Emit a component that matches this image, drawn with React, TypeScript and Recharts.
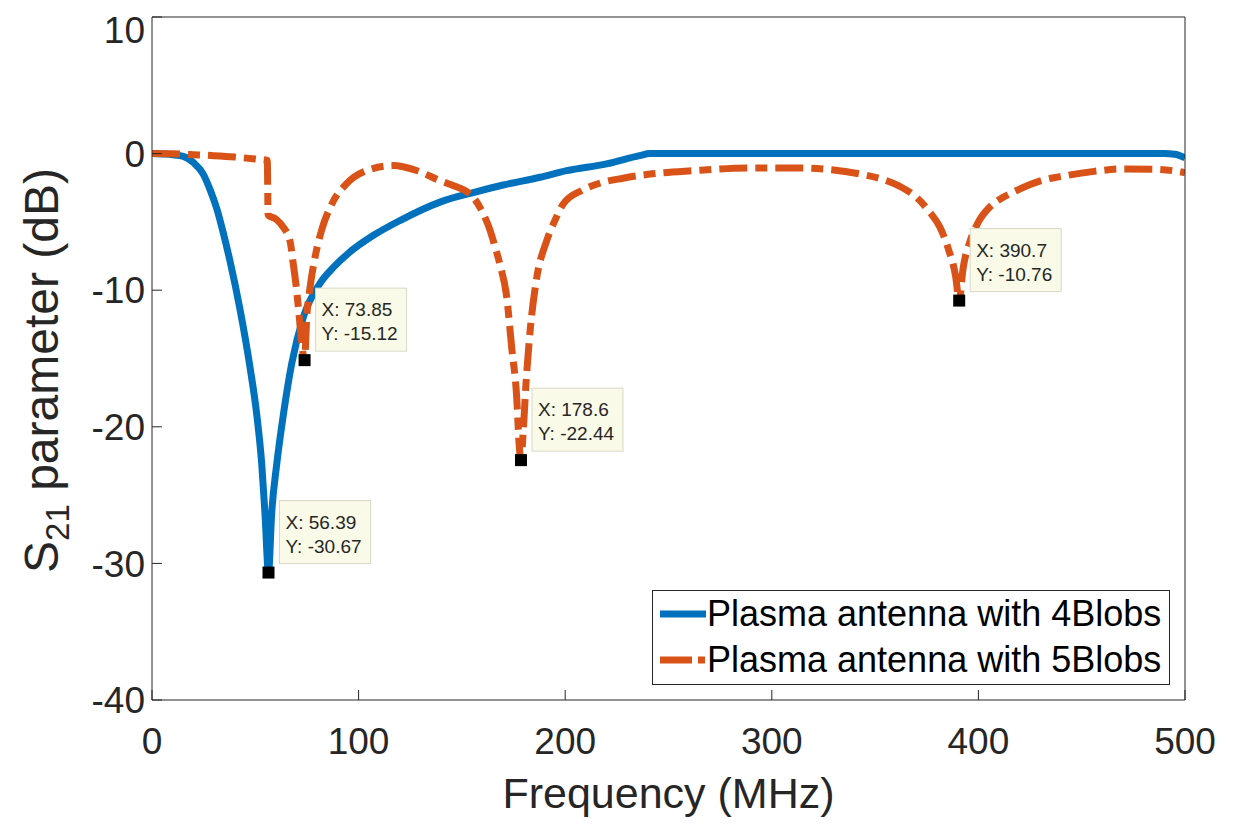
import { ComposedChart, Line, XAxis, YAxis, Scatter, Legend } from 'recharts';

const FONT = '"Liberation Sans", Arial, Helvetica, sans-serif';
const INK = '#262626';
const BLUE = '#0072BD';
const ORANGE = '#D95319';

// 4 blobs (solid blue)
const freq4 = [0, 5, 10, 15.2, 20, 24.8, 28, 31.3, 34.5, 37.8, 42.6, 47.4, 50.7, 53.1, 54.7, 56.39, 57.9, 60.4, 63.6, 67.6, 73.2, 81.3, 88, 95, 107, 120, 139.4, 155.5, 170, 187.8, 200.7, 220, 236, 241, 300, 400, 490, 495, 500];
const s21_4 = [0, -0.03, -0.08, -0.2, -0.65, -1.5, -2.6, -4.0, -5.8, -7.9, -11.4, -15.6, -19.1, -22.7, -26.4, -30.67, -26.4, -22.7, -19.1, -15.4, -12.0, -9.5, -8.3, -7.3, -6.0, -4.9, -3.55, -2.85, -2.3, -1.73, -1.25, -0.75, -0.15, 0, 0, 0, 0, -0.05, -0.3];

// 5 blobs (dash-dot orange)
const freq5 = [0, 10, 20, 30, 40, 50, 55.8, 56.2, 60, 63.6, 66.8, 68.4, 70, 71.3, 72.5, 73.85, 74.9, 76.5, 78.9, 82.1, 87, 94.2, 104, 116.8, 128, 139.4, 146, 152, 155.5, 160, 163.6, 166, 168.4, 171.7, 174.1, 176.5, 177.8, 178.6, 179.7, 181, 183, 186, 191, 195, 199, 208, 217, 228, 241, 262, 290, 314, 330, 343, 354, 362, 370, 376, 381.4, 385.5, 389, 390.7, 392.5, 396, 400, 405.6, 412, 418.5, 430, 442.7, 456, 470, 485, 499, 500];
const s21_5 = [0, -0.02, -0.08, -0.15, -0.25, -0.4, -0.5, -4.5, -4.8, -5.4, -6.4, -8.1, -10, -12, -13.9, -15.12, -12, -9.8, -7.6, -5.6, -3.7, -2.2, -1.24, -0.88, -1.24, -1.98, -2.35, -2.75, -3.2, -4.3, -5.6, -6.8, -8.1, -10.5, -14.2, -17.8, -21.5, -22.44, -20.3, -16.9, -13, -9.3, -6.4, -4.9, -3.7, -2.7, -2.15, -1.8, -1.5, -1.25, -1.05, -1.05, -1.2, -1.5, -1.9, -2.4, -3.2, -4.2, -5.4, -7, -9, -10.76, -8.5, -6.4, -5.0, -3.9, -3.2, -2.7, -2.0, -1.6, -1.3, -1.12, -1.15, -1.37, -1.4];

// data cursors
const tipFreq = [56.39, 73.85, 178.6, 390.7];
const tipDb = [-30.67, -15.12, -22.44, -10.76];

const xTicks = [0, 100, 200, 300, 400, 500];
const yTicks = [-40, -30, -20, -10, 0, 10];

const seriesNames = ['Plasma antenna with 4Blobs', 'Plasma antenna with 5Blobs'];

const data4 = freq4.map((f, i) => ({ f, db: s21_4[i] }));
const data5 = freq5.map((f, i) => ({ f, db: s21_5[i] }));
const tips = tipFreq.map((f, i) => ({ f, db: tipDb[i] }));

const DASH = '28 8 12 8';

const TipShape = (props: any) => {
  const { cx, cy, payload } = props;
  if (cx == null || cy == null) return null;
  return (
    <g>
      <rect x={cx + 11} y={cy - 72} width={91} height={63} fill="#fafae8" stroke="#d8d8c8" />
      <text x={cx + 17} y={cy - 44} fontSize={19} fill={INK} fontFamily={FONT}>
        X: {payload.f.toPrecision(4)}
      </text>
      <text x={cx + 17} y={cy - 20} fontSize={19} fill={INK} fontFamily={FONT}>
        Y: {payload.db.toPrecision(4)}
      </text>
      <rect x={cx - 6} y={cy - 6} width={12} height={12} fill="#000" />
    </g>
  );
};

const YLabel = (props: any) => {
  const vb = props.viewBox;
  const x = 50;
  const y = vb.y + vb.height / 2 + 12;
  return (
    <text
      x={x}
      y={y}
      transform={`rotate(-90, ${x}, ${y})`}
      textAnchor="middle"
      fontSize={48}
      fill={INK}
      fontFamily={FONT}
    >
      S<tspan fontSize={33} dy={11}>21</tspan>
      <tspan dy={-11}> parameter (dB)</tspan>
    </text>
  );
};

const renderLegend = () => (
  <div
    style={{
      width: 518,
      height: 95,
      border: `1px solid ${INK}`,
      background: '#fff',
      fontFamily: FONT,
      fontSize: 36,
      color: '#000',
      boxSizing: 'border-box',
    }}
  >
    {seriesNames.map((name, i) => (
      <div key={name} style={{ display: 'flex', alignItems: 'center', height: 46, paddingLeft: 7 }}>
        <svg width={47} height={10} style={{ flex: 'none' }}>
          <line
            x1={0}
            y1={5}
            x2={46}
            y2={5}
            stroke={i === 0 ? BLUE : ORANGE}
            strokeWidth={7}
            strokeDasharray={i === 0 ? undefined : '32 6 7 20'}
          />
        </svg>
        <span style={{ whiteSpace: 'nowrap', lineHeight: '46px' }}>{name}</span>
      </div>
    ))}
  </div>
);

export default function App() {
  return (
    <div style={{ width: 1228, height: 811, background: '#fff' }}>
      <ComposedChart width={1228} height={811} margin={{ top: 8, right: 50, left: 0, bottom: 0 }}>
        <XAxis
          dataKey="f"
          type="number"
          domain={[0, 500]}
          ticks={xTicks}
          allowDataOverflow
          height={119}
          stroke={INK}
          tickSize={-10}
          tickMargin={38}
          tick={{ fontSize: 37, fill: INK, fontFamily: FONT }}
          label={{ value: 'Frequency (MHz)', position: 'insideBottom', offset: 11, fontSize: 43, fill: INK, fontFamily: FONT }}
        />
        <XAxis
          xAxisId="top"
          dataKey="f"
          orientation="top"
          type="number"
          domain={[0, 500]}
          ticks={xTicks}
          allowDataOverflow
          height={1}
          stroke={INK}
          tickSize={-10}
          tick={false}
        />
        <YAxis
          dataKey="db"
          type="number"
          domain={[-40, 10]}
          ticks={yTicks}
          allowDataOverflow
          width={144}
          stroke={INK}
          tickSize={-10}
          tickMargin={17}
          tick={{ fontSize: 37, fill: INK, fontFamily: FONT }}
          label={{ content: YLabel }}
        />
        <YAxis
          yAxisId="right"
          dataKey="db"
          orientation="right"
          type="number"
          domain={[-40, 10]}
          ticks={yTicks}
          allowDataOverflow
          width={1}
          stroke={INK}
          tickSize={-10}
          tick={false}
        />
        <Legend
          verticalAlign="middle"
          layout="horizontal"
          content={renderLegend}
          wrapperStyle={{ left: 644, top: 582, width: 518, height: 95 }}
        />
        <Line
          data={data4}
          dataKey="db"
          name={seriesNames[0]}
          type="monotone"
          stroke={BLUE}
          strokeWidth={7}
          dot={false}
          activeDot={false}
          isAnimationActive={false}
        />
        <Line
          data={data5}
          dataKey="db"
          name={seriesNames[1]}
          type="monotone"
          stroke={ORANGE}
          strokeWidth={7}
          strokeDasharray={DASH}
          dot={false}
          activeDot={false}
          isAnimationActive={false}
        />
        <Scatter
          data={tips}
          dataKey="db"
          xAxisId="top"
          yAxisId="right"
          shape={TipShape}
          isAnimationActive={false}
        />
      </ComposedChart>
    </div>
  );
}
